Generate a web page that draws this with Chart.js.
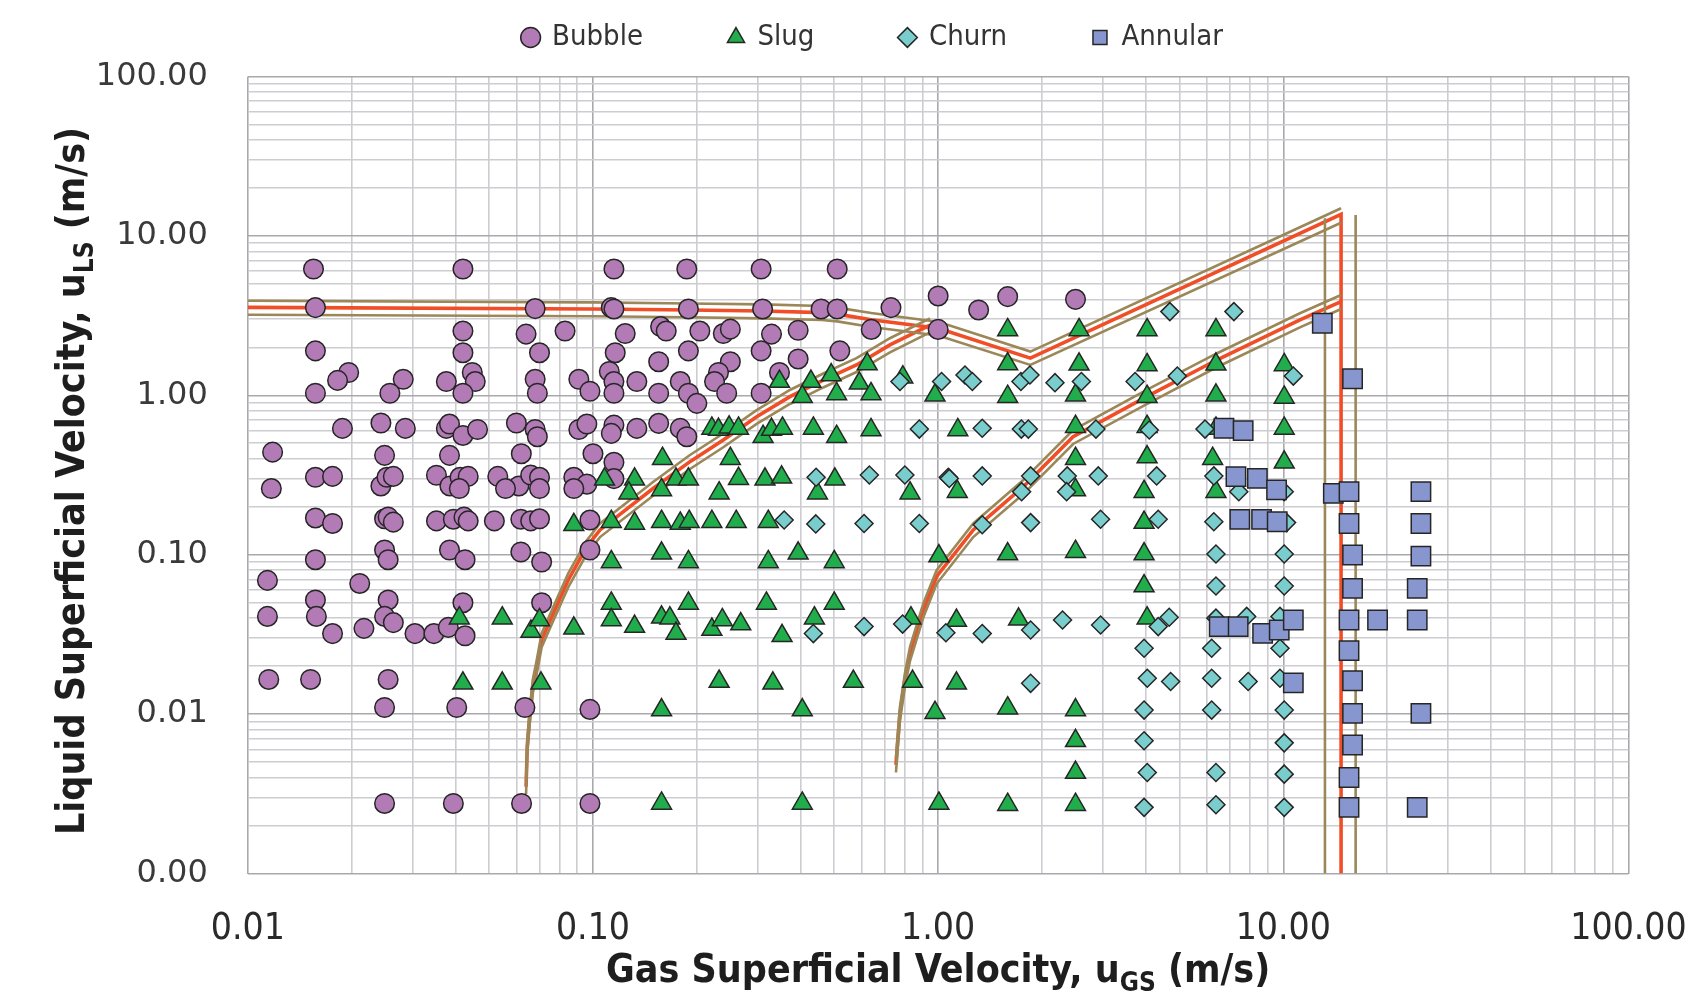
<!DOCTYPE html>
<html><head><meta charset="utf-8">
<script src="https://cdn.jsdelivr.net/npm/chart.js@4.4.1/dist/chart.umd.min.js"></script>
<style>html,body{margin:0;padding:0;background:#fff;}canvas{display:block;}</style>
</head><body>
<canvas id="c" width="1689" height="1001" style="width:1689px;height:1001px"></canvas>
<script>
// ---------------- data ----------------
const seriesNames = ['Bubble', 'Slug', 'Churn', 'Annular'];
const xDecadeLabels = ['0.01', '0.10', '1.00', '10.00', '100.00'];
const yDecadeLabels = ['0.00', '0.01', '0.10', '1.00', '10.00', '100.00'];

const bubbleX = [0.0155,0.042,0.0157,0.068,0.042,0.064,0.083,0.0157,0.042,0.070,0.0196,0.0182,0.0282,0.0258,0.0376,0.0447,0.0456,0.042,0.0157,0.068,0.069,0.091,0.098,
0.0188,0.0243,0.0286,0.0376,0.0384,0.042,0.0463,0.060,0.068,0.069,0.091,0.096,0.0118,0.0249,0.0384,0.062,0.100,
0.0157,0.0176,0.0243,0.0253,0.0264,0.0352,0.0385,0.0412,0.0435,0.053,0.061,0.066,0.070,0.088,0.096,0.0117,0.041,0.0558,0.070,0.088,
0.0157,0.0176,0.0249,0.0255,0.0264,0.0352,0.0394,0.0423,0.0435,0.0518,0.0618,0.066,0.070,0.098,
0.0157,0.0249,0.0255,0.0384,0.0426,0.0618,0.071,0.098,0.0114,0.0211,0.0157,0.0255,0.042,0.071,
0.0114,0.0158,0.0176,0.0217,0.0249,0.0264,0.0305,0.0346,0.0381,0.0426,0.0115,0.0152,0.0255,
0.0249,0.0403,0.0635,0.098,0.0249,0.0394,0.0621,0.098,
0.115,0.187,0.307,0.51,1.0,0.113,0.115,0.189,0.31,0.458,0.51,0.73,1.0,0.64,0.393,0.329,0.2385,0.25,0.204,0.157,0.163,0.124,
0.116,0.189,0.307,0.519,0.155,0.25,0.393,0.1115,0.115,0.115,0.134,0.155,0.179,0.189,0.20,0.231,0.225,0.244,0.307,0.347,
0.115,0.113,0.134,0.155,0.179,0.187,0.115,0.115,1.31,1.59,2.5];
const bubbleY = [6.2,6.2,3.55,3.5,2.53,2.42,2.53,1.9,1.85,1.85,1.39,1.24,1.26,1.03,1.22,1.39,1.22,1.03,1.03,1.26,1.03,1.26,1.06,
0.62,0.67,0.62,0.62,0.66,0.56,0.61,0.67,0.61,0.55,0.61,0.66,0.44,0.42,0.42,0.43,0.43,
0.306,0.31,0.27,0.306,0.31,0.315,0.27,0.306,0.31,0.31,0.27,0.316,0.306,0.306,0.277,0.26,0.26,0.26,0.26,0.26,
0.17,0.157,0.168,0.172,0.16,0.163,0.167,0.172,0.163,0.163,0.167,0.163,0.168,0.165,
0.093,0.107,0.093,0.107,0.093,0.104,0.090,0.107,0.069,0.066,0.052,0.052,0.050,0.050,
0.041,0.041,0.032,0.0345,0.041,0.0375,0.032,0.032,0.035,0.031,0.0165,0.0165,0.0165,
0.011,0.011,0.011,0.0107,0.00275,0.00275,0.00275,0.00275,
6.2,6.2,6.2,6.2,4.2,3.55,3.48,3.48,3.48,3.48,3.48,3.55,2.59,2.59,2.56,2.42,2.44,2.6,2.53,2.7,2.53,2.44,
1.85,1.9,1.9,1.9,1.625,1.625,1.69,1.41,1.22,1.03,1.22,1.03,1.22,1.03,0.89,1.39,1.22,1.03,1.03,1.39,
0.65,0.577,0.62,0.667,0.62,0.55,0.38,0.30,3.43,4.16,4.0];

const slugX = [0.088,0.041,0.0546,0.0661,0.070,0.088,0.042,0.0546,0.0707,
0.347,0.428,0.49,0.623,0.591,0.508,0.639,0.404,0.79,0.979,
0.221,0.231,0.248,0.264,0.311,0.329,0.354,0.435,0.508,0.639,0.159,0.25,
0.108,0.132,0.174,0.189,0.264,0.315,0.352,0.502,0.127,0.158,0.232,0.447,0.829,
0.113,0.132,0.158,0.179,0.190,0.221,0.26,0.322,0.113,0.158,0.189,0.322,0.393,0.50,1.005,
0.113,0.189,0.318,0.50,0.113,0.132,0.158,0.167,0.174,0.221,0.237,0.268,0.353,0.438,0.834,
0.232,0.332,0.568,0.843,0.158,0.404,0.979,0.158,0.404,1.005,
1.59,2.56,4.03,6.38,1.59,2.56,4.03,6.38,10.06,1.59,2.5,4.03,6.38,10.06,1.14,2.5,4.03,6.38,10.06,2.5,4.03,6.24,10.06,
1.136,2.5,3.95,6.38,3.95,1.59,2.5,3.95,3.95,1.13,1.71,4.03,1.13,1.59,2.5,2.5,2.5,1.59,2.5];
const slugY = [0.154,0.040,0.040,0.033,0.039,0.0345,0.0156,0.0156,0.0156,
1.22,1.22,1.34,1.57,1.19,1.02,1.02,0.98,1.30,1.0,
0.62,0.61,0.63,0.62,0.55,0.61,0.62,0.62,0.55,0.606,0.40,0.40,
0.297,0.297,0.297,0.297,0.30,0.297,0.306,0.297,0.243,0.255,0.243,0.243,0.243,
0.161,0.157,0.161,0.157,0.161,0.161,0.161,0.161,0.090,0.102,0.090,0.090,0.102,0.090,0.098,
0.0495,0.0495,0.0495,0.0495,0.039,0.0354,0.0405,0.040,0.032,0.034,0.039,0.0367,0.031,0.040,0.040,
0.016,0.0156,0.016,0.016,0.0106,0.0106,0.0102,0.00275,0.00275,0.00275,
2.57,2.57,2.57,2.57,1.57,1.565,1.55,1.565,1.55,0.98,1.0,0.98,1.0,0.97,0.606,0.635,0.635,0.62,0.62,0.40,0.41,0.40,0.38,
0.2485,0.255,0.2485,0.2485,0.159,0.101,0.1045,0.101,0.0636,0.0386,0.0393,0.040,0.0156,0.0109,0.0106,0.0068,0.0043,0.0027,0.0027];

const churnX = [0.775,1.023,0.882,0.443,0.632,0.801,1.07,0.358,0.442,0.61,0.882,0.435,0.61,0.789,1.053,
1.196,1.256,1.737,1.845,2.18,2.60,3.72,4.93,4.69,7.19,10.69,
1.342,1.742,1.825,2.865,4.09,5.93,1.077,1.342,1.853,2.366,2.91,4.295,6.29,
1.745,2.356,7.43,10.06,1.342,1.853,2.955,4.34,6.29,10.22,6.38,10.06,6.38,10.06,
1.342,1.853,2.293,2.955,4.34,4.67,6.38,7.83,9.78,3.95,6.2,9.78,
1.853,4.035,4.715,6.2,7.91,9.78,3.95,6.2,10.06,3.95,10.06,4.035,6.38,10.06,3.95,6.38,10.06];
const churnY = [1.22,1.22,0.614,0.306,0.316,0.316,0.306,0.165,0.156,0.157,0.157,0.032,0.0354,0.0367,0.0324,
1.34,1.22,1.22,1.34,1.2,1.22,1.22,1.32,3.35,3.35,1.32,
0.621,0.614,0.614,0.614,0.606,0.614,0.301,0.312,0.312,0.312,0.312,0.312,0.312,
0.2485,0.2485,0.2485,0.2485,0.154,0.159,0.167,0.167,0.161,0.159,0.101,0.101,0.0636,0.0636,
0.032,0.0337,0.0389,0.0362,0.0354,0.0405,0.040,0.041,0.041,0.0259,0.0259,0.0259,
0.0156,0.0168,0.016,0.0168,0.016,0.0168,0.0106,0.0106,0.0106,0.0068,0.0066,0.0043,0.0043,0.0042,0.0026,0.0027,0.0026];

const annularX = [6.73,7.65,7.29,8.41,9.56,7.48,8.65,9.6,6.52,7.40,8.71,9.73,10.69,10.69,
13.96,15.5,25.04,15.5,25.04,15.87,25.04,15.87,24.43,15.5,18.75,24.43,15.5,15.87,15.87,25.04,15.87,15.5,15.5,24.43,12.97,15.87];
const annularY = [0.621,0.60,0.309,0.301,0.255,0.1666,0.1666,0.161,0.0354,0.0354,0.0321,0.0337,0.0389,0.0157,
0.2427,0.2485,0.2485,0.157,0.157,0.0996,0.098,0.0615,0.0615,0.0389,0.0389,0.0389,0.025,0.0162,0.0101,0.0101,0.0064,0.004,0.0026,0.0026,2.83,1.27];

// transition boundaries (red = boundary, brown = band)
const bubbleSlugX   = [0.01,0.1,0.19,0.31,0.46,0.51,0.64,0.8,0.91,1.0,1.85,14.7,14.7];
const bubbleSlugY   = [3.56,3.48,3.43,3.38,3.3,3.23,2.98,2.8,2.7,2.63,1.71,13.66,0.001];
const bubbleSlugHiX = [0.01,0.1,0.19,0.31,0.46,0.51,0.64,0.8,0.91,1.0,1.85,14.7];
const bubbleSlugHiY = [3.92,3.83,3.77,3.72,3.63,3.55,3.28,3.08,2.97,2.89,1.88,14.9];
const bubbleSlugLoX = [0.01,0.1,0.19,0.31,0.46,0.51,0.64,0.8,0.91,1.0,1.85,14.7];
const bubbleSlugLoY = [3.2,3.13,3.09,3.04,2.97,2.91,2.68,2.52,2.43,2.37,1.55,12.1];
const annularLeftX  = [13.2,13.2];
const annularLeftY  = [12.9,0.001];
const annularRightX = [16.2,16.2];
const annularRightY = [13.5,0.001];

const slugChurnAX   = [0.064,0.0645,0.0657,0.0669,0.0687,0.071,0.0768,0.0848,0.0959,0.1048,0.1496,0.191,0.2385,0.298,0.372,0.4647,0.58,0.725,0.947];
const slugChurnAY   = [0.0035,0.00625,0.0101,0.0149,0.0198,0.0292,0.0429,0.0694,0.112,0.143,0.261,0.3835,0.524,0.734,0.98,1.247,1.55,2.07,2.76];
const slugChurnAHiY = [0.00385,0.0069,0.0111,0.0164,0.0218,0.0321,0.0472,0.0763,0.123,0.157,0.287,0.422,0.576,0.807,1.08,1.37,1.71,2.28,3.04];
const slugChurnALoY = [0.00315,0.0056,0.0091,0.0134,0.0178,0.0263,0.0386,0.0625,0.101,0.129,0.235,0.345,0.472,0.661,0.882,1.12,1.40,1.86,2.48];

const churnAnnX     = [0.7547,0.7615,0.775,0.801,0.829,0.906,0.99,1.264,1.765,2.46,4.02,6.41,11.17,14.7];
const churnAnnY     = [0.0048,0.00625,0.0101,0.0164,0.024,0.045,0.073,0.143,0.267,0.55,0.98,1.665,2.97,3.87];
const churnAnnHiY   = [0.0053,0.0069,0.0111,0.018,0.0264,0.0495,0.080,0.157,0.294,0.605,1.08,1.83,3.27,4.26];
const churnAnnLoY   = [0.0043,0.0056,0.0091,0.0148,0.0216,0.0405,0.0657,0.129,0.24,0.495,0.88,1.50,2.67,3.48];

// ---------------- chart ----------------
const NARROW = "'Liberation Sans Narrow','DejaVu Sans Condensed','Open Sans',sans-serif";
const pts = (xs, ys) => xs.map((x, i) => ({x: x, y: ys[i]}));
const isDecade = v => Math.abs(Math.log10(v) - Math.round(Math.log10(v))) < 1e-6;

function markerSet(label, xs, ys, style, fill, radius, order) {
  return {label, data: pts(xs, ys), pointStyle: style, backgroundColor: fill, borderColor: '#262626',
    borderWidth: 1.5, pointRadius: radius, pointHoverRadius: radius, showLine: false, order};
}
function lineSet(xs, ys, color, width, order) {
  return {label: '', data: pts(xs, ys), showLine: true, borderColor: color, backgroundColor: color,
    borderWidth: width, pointRadius: 0, pointHoverRadius: 0, fill: false, tension: 0, order};
}
const RED = '#f04e27', BROWN = '#9b8757';

function logTicks(scale) {
  const t = [];
  const e0 = Math.round(Math.log10(scale.min)), e1 = Math.round(Math.log10(scale.max));
  for (let e = e0; e < e1; e++) for (let m = 1; m < 10; m++) t.push({value: parseFloat((m * Math.pow(10, e)).toPrecision(6))});
  t.push({value: scale.max});
  scale.ticks = t;
}

const legendFix = {
  id: 'legendFix',
  beforeInit(chart) {
    const lg = chart.legend; if (!lg) return;
    const fit = lg.fit;
    lg.fit = function () { fit.call(this); this.height = 76.5; };
    const draw = lg.draw;
    lg.draw = function (a) {
      const t = this.top, l = this.left, r = this.right;
      this.top = t - 63; this.left = l + 59; this.right = r + 59;
      draw.call(this, a);
      this.top = t; this.left = l; this.right = r;
    };
  }
};

function drawParts(ctx, parts, size) {
  const mainF = 'bold ' + size + 'px ' + NARROW, subF = 'bold ' + Math.round(size * 0.66) + 'px ' + NARROW;
  let total = 0;
  parts.forEach(p => { ctx.font = p[1] ? subF : mainF; total += ctx.measureText(p[0]).width; });
  let x = -total / 2;
  parts.forEach(p => { ctx.font = p[1] ? subF : mainF; ctx.fillText(p[0], x, p[1] ? size * 0.22 : 0); x += ctx.measureText(p[0]).width; });
}
const axisTitles = {
  id: 'axisTitles',
  afterDraw(chart) {
    const ctx = chart.ctx, a = chart.chartArea;
    ctx.save();
    ctx.fillStyle = '#1e1e1e'; ctx.textBaseline = 'alphabetic'; ctx.textAlign = 'left';
    ctx.translate((a.left + a.right) / 2, 982);
    drawParts(ctx, [['Gas Superficial Velocity, u', false], ['GS', true], [' (m/s)', false]], 39);
    ctx.restore();
    ctx.save();
    ctx.fillStyle = '#1e1e1e'; ctx.textBaseline = 'alphabetic'; ctx.textAlign = 'left';
    ctx.translate(84, (a.top + a.bottom) / 2 + 6);
    ctx.rotate(-Math.PI / 2);
    drawParts(ctx, [['Liquid Superficial Velocity, u', false], ['LS', true], [' (m/s)', false]], 39);
    ctx.restore();
  }
};

new Chart(document.getElementById('c'), {
  type: 'scatter',
  data: {
    datasets: [
      markerSet(seriesNames[0], bubbleX, bubbleY, 'circle', '#b27bb5', 9.8, 4),
      markerSet(seriesNames[1], slugX, slugY, 'triangle', '#21ad4b', 11.5, 3),
      markerSet(seriesNames[2], churnX, churnY, 'rectRot', '#79cdcc', 9, 2),
      markerSet(seriesNames[3], annularX, annularY, 'rect', '#8796cf', 13.7, 1),
      lineSet(bubbleSlugHiX, bubbleSlugHiY, BROWN, 2.6, 5),
      lineSet(bubbleSlugLoX, bubbleSlugLoY, BROWN, 2.6, 5),
      lineSet(annularLeftX, annularLeftY, BROWN, 2.6, 5),
      lineSet(annularRightX, annularRightY, BROWN, 2.6, 5),
      lineSet(slugChurnAX, slugChurnAHiY, BROWN, 2.6, 5),
      lineSet(slugChurnAX, slugChurnALoY, BROWN, 2.6, 5),
      lineSet(churnAnnX, churnAnnHiY, BROWN, 2.6, 5),
      lineSet(churnAnnX, churnAnnLoY, BROWN, 2.6, 5),
      lineSet(bubbleSlugX, bubbleSlugY, RED, 3.6, 6),
      lineSet(slugChurnAX, slugChurnAY, RED, 3.6, 6),
      lineSet(churnAnnX, churnAnnY, RED, 3.6, 6)
    ]
  },
  options: {
    responsive: false, animation: false, events: [],
    layout: {padding: {left: 0, right: 60.5, top: 0, bottom: 0}},
    plugins: {
      tooltip: {enabled: false},
      legend: {
        position: 'top', align: 'center',
        labels: {
          usePointStyle: true, boxWidth: 14, boxHeight: 14, padding: 86, color: '#333',
          font: {family: NARROW, size: 29},
          filter: item => item.datasetIndex < 4,
          sort: (a, b) => a.datasetIndex - b.datasetIndex
        }
      }
    },
    scales: {
      x: {
        type: 'logarithmic', min: 0.01, max: 100, position: 'bottom',
        afterBuildTicks: logTicks,
        afterFit: s => { s.height = 127.5; s.paddingLeft = 0; s.paddingRight = 0; },
        grid: {drawTicks: false, lineWidth: 1.6, color: c => isDecade(c.tick.value) ? '#a9a9ad' : '#cdcdd1'},
        border: {display: false},
        ticks: {autoSkip: false, maxRotation: 0, minRotation: 0, padding: 34, color: '#2a2a2a',
          font: {family: NARROW, size: 37},
          callback: v => isDecade(v) ? xDecadeLabels[Math.round(Math.log10(v)) + 2] : ''}
      },
      y: {
        type: 'logarithmic', min: 0.001, max: 100,
        afterBuildTicks: logTicks,
        afterFit: s => { s.width = 247.8; s.paddingTop = 0; s.paddingBottom = 0; },
        grid: {drawTicks: false, lineWidth: 1.6, color: c => isDecade(c.tick.value) ? '#a9a9ad' : '#cdcdd1'},
        border: {display: false},
        ticks: {autoSkip: false, padding: 40, color: '#3a3a3a',
          font: {family: "'DejaVu Sans', sans-serif", size: 32},
          callback: v => isDecade(v) ? yDecadeLabels[Math.round(Math.log10(v)) + 3] : ''}
      }
    }
  },
  plugins: [legendFix, axisTitles]
});
</script>
</body></html>
